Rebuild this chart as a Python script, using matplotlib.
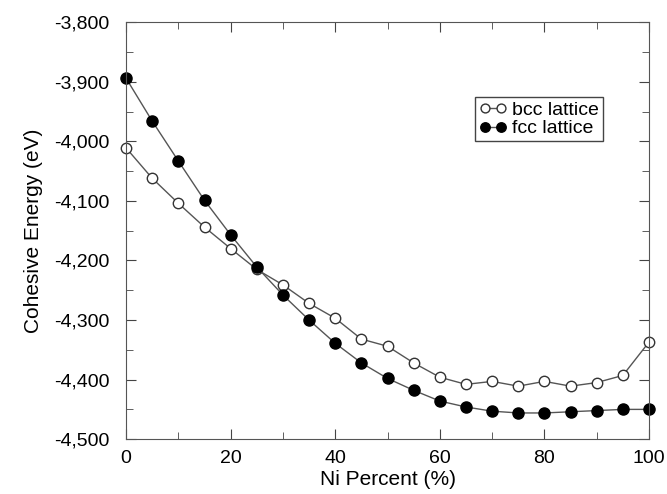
import matplotlib
matplotlib.use("Agg")
import matplotlib.pyplot as plt
from matplotlib.ticker import MultipleLocator, FuncFormatter

plt.rcParams['font.family'] = ['Liberation Sans', 'DejaVu Sans']

ni_pct = [0, 5, 10, 15, 20, 25, 30, 35, 40, 45, 50, 55, 60, 65, 70, 75, 80, 85, 90, 95, 100]
bcc = [-4011, -4062, -4104, -4144, -4180, -4215, -4241, -4272, -4297, -4332, -4344, -4372,
       -4396, -4408, -4403, -4411, -4403, -4411, -4405, -4393, -4337]
fcc = [-3894, -3966, -4033, -4099, -4157, -4211, -4258, -4300, -4339, -4372, -4398, -4418,
       -4436, -4446, -4453, -4456, -4456, -4454, -4452, -4450, -4450]

fig = plt.figure(figsize=(6.67, 4.94), dpi=100)
ax = fig.add_axes([0.189, 0.111, 0.784, 0.844])

ax.plot(ni_pct, bcc, color='#555555', lw=1, marker='o', ms=7.5,
        mfc='white', mec='#333333', mew=1, label='bcc lattice', clip_on=False)
ax.plot(ni_pct, fcc, color='#555555', lw=1, marker='o', ms=8,
        mfc='black', mec='black', label='fcc lattice', clip_on=False)

ax.set_xlim(0, 100)
ax.set_ylim(-4500, -3800)
ax.xaxis.set_major_locator(MultipleLocator(20))
ax.xaxis.set_minor_locator(MultipleLocator(10))
ax.yaxis.set_major_locator(MultipleLocator(100))
ax.yaxis.set_minor_locator(MultipleLocator(50))
ax.yaxis.set_major_formatter(FuncFormatter(lambda v, p: f"{int(v):,}"))

ax.tick_params(which='both', direction='in', top=True, right=True,
               labelsize=14, color='#444444')
ax.tick_params(axis='y', pad=12)
ax.tick_params(axis='x', pad=8)
ax.tick_params(which='major', length=7)
ax.tick_params(which='minor', length=5)
for s in ax.spines.values():
    s.set_color('#555555')

ax.set_xlabel('Ni Percent (%)', fontsize=15, labelpad=2)
ax.set_ylabel('Cohesive Energy (eV)', fontsize=15, labelpad=8)

leg = ax.legend(loc='upper left', bbox_to_anchor=(0.668, 0.82), fontsize=14,
                numpoints=2, handlelength=1.4, handletextpad=0.3, borderpad=0.2,
                labelspacing=0.05, fancybox=False, framealpha=1, borderaxespad=0,
                markerscale=0.85)
leg.get_frame().set_edgecolor('#444444')
leg.get_frame().set_linewidth(1)

fig.savefig('out.png', dpi=100)
